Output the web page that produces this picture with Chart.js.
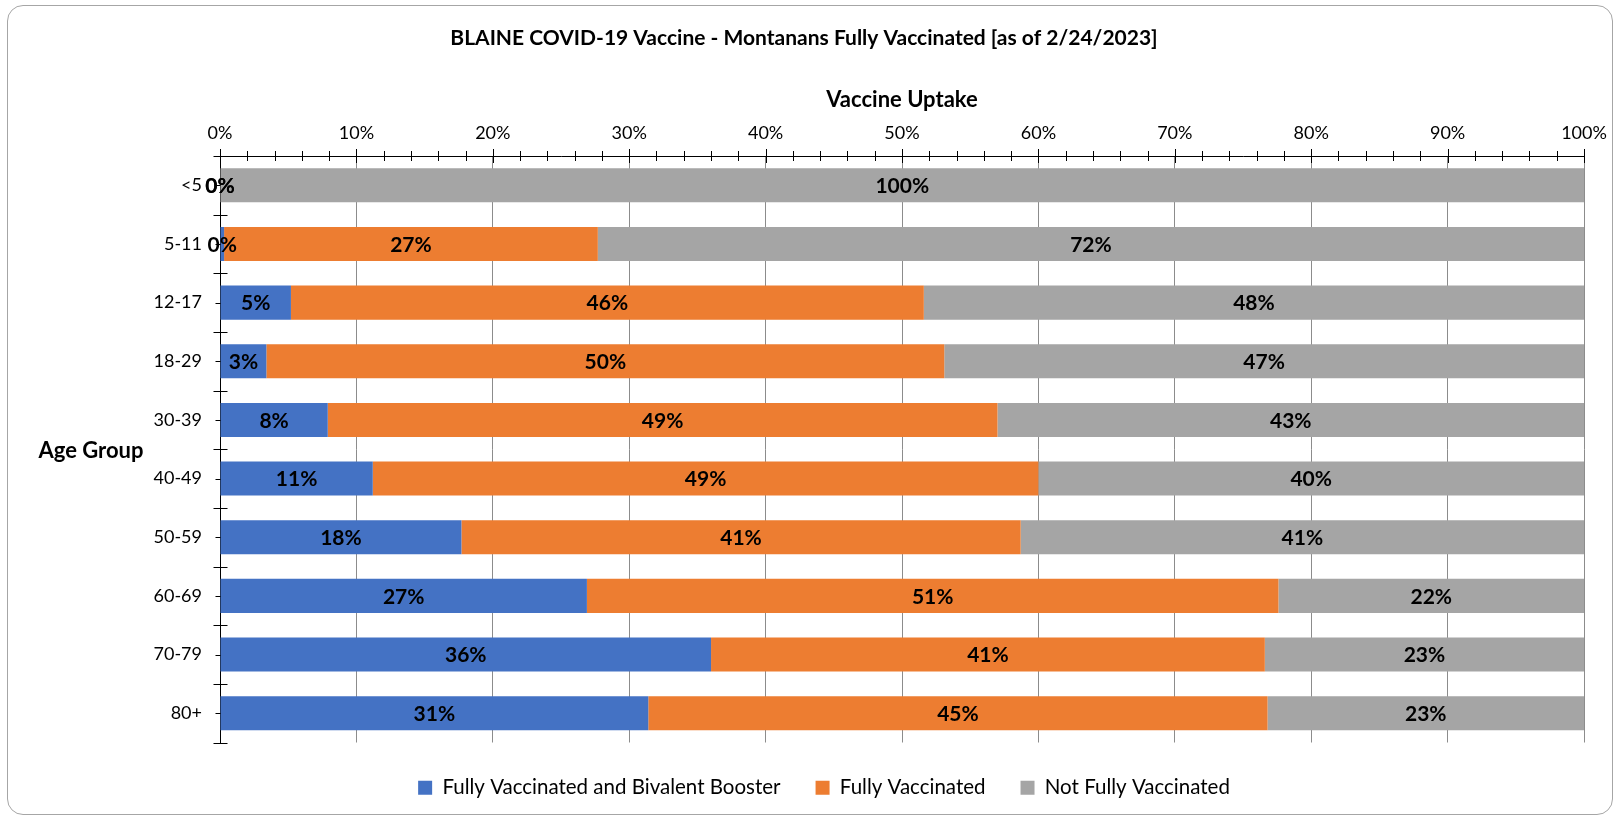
<!DOCTYPE html>
<html><head><meta charset="utf-8">
<script src="https://cdn.jsdelivr.net/npm/chart.js@4.4.0/dist/chart.umd.min.js"></script>
<style>
html,body{margin:0;padding:0;background:#fff;}
#wrap{position:relative;width:1615px;height:817px;overflow:hidden;}
#frame{position:absolute;left:7px;top:5px;width:1606px;height:810px;border:1px solid #a6a6a6;border-radius:16px;box-sizing:border-box;}
canvas{position:absolute;left:0;top:0;}
</style></head><body>
<div id="wrap"><div id="frame"></div><canvas id="c" width="1615" height="817"></canvas></div>
<script>
const categories = ['<5','5-11','12-17','18-29','30-39','40-49','50-59','60-69','70-79','80+'];
const boosterValues  = [0, 0.3, 5.2, 3.4, 7.9, 11.2, 17.7, 26.9, 36.0, 31.4];
const fullyValues    = [0, 27.4, 46.4, 49.7, 49.1, 48.8, 41.0, 50.7, 40.6, 45.4];
const notFullyValues = [100, 72.3, 48.4, 46.9, 43.0, 40.0, 41.3, 22.4, 23.4, 23.2];
const seriesNames = ['Fully Vaccinated and Bivalent Booster', 'Fully Vaccinated', 'Not Fully Vaccinated'];
const seriesColors = ['#4472C4', '#ED7D31', '#A5A5A5'];
const titleText = 'BLAINE COVID-19 Vaccine - Montanans Fully Vaccinated [as of 2/24/2023]';
const xTitle = 'Vaccine Uptake';
const yTitle = 'Age Group';

const FONT = 'Lato, "Open Sans", sans-serif';

const dataLabels = {
  id: 'dataLabels',
  afterDatasetsDraw(chart) {
    const ctx = chart.ctx;
    ctx.save();
    ctx.font = 'bold 21px ' + FONT;
    ctx.fillStyle = '#000';
    ctx.textAlign = 'center';
    ctx.textBaseline = 'middle';
    chart.data.datasets.forEach((ds, di) => {
      const meta = chart.getDatasetMeta(di);
      meta.data.forEach((el, i) => {
        const v = ds.data[i];
        const x = (el.x + el.base) / 2;
        ctx.fillText(Math.round(v) + '%', x, el.y + 1);
      });
    });
    ctx.restore();
  }
};

const legendShift = {
  id: 'legendShift',
  afterLayout(chart) {
    if (chart.legend) { chart.legend.left += 20; chart.legend.right += 20; }
  }
};

const axisDecor = {
  id: 'axisDecor',
  afterDraw(chart) {
    const ctx = chart.ctx;
    const xs = chart.scales.x, ys = chart.scales.y;
    const area = chart.chartArea;
    ctx.save();
    ctx.strokeStyle = '#000';
    ctx.lineWidth = 1;
    ctx.beginPath();
    for (let v = 0; v <= 100; v += 2) {
      const x = Math.round(xs.getPixelForValue(v)) + 0.5;
      const major = v % 10 === 0;
      ctx.moveTo(x, area.top - (major ? 7 : 5));
      ctx.lineTo(x, area.top + (major ? 7 : 5));
    }
    const n = categories.length;
    const step = (area.bottom - area.top) / n;
    const ax = Math.round(area.left) + 0.5;
    for (let i = 0; i <= n; i++) {
      const y = Math.round(area.top + i * step) + 0.5;
      ctx.moveTo(ax - 7, y); ctx.lineTo(ax + 7, y);
    }
    for (let i = 0; i < n; i++) {
      const y = Math.round(ys.getPixelForValue(i)) + 0.5;
      ctx.moveTo(ax - 5, y); ctx.lineTo(ax, y);
    }
    ctx.stroke();
    ctx.font = 'bold 22px ' + FONT;
    ctx.fillStyle = '#000';
    ctx.textAlign = 'center';
    ctx.textBaseline = 'middle';
    ctx.fillText(yTitle, 91, 451);
    ctx.restore();
  }
};

new Chart(document.getElementById('c'), {
  type: 'bar',
  data: {
    labels: categories,
    datasets: [
      { label: seriesNames[0], data: boosterValues, backgroundColor: seriesColors[0] },
      { label: seriesNames[1], data: fullyValues, backgroundColor: seriesColors[1] },
      { label: seriesNames[2], data: notFullyValues, backgroundColor: seriesColors[2] }
    ]
  },
  options: {
    indexAxis: 'y',
    responsive: false,
    animation: false,
    devicePixelRatio: 1,
    categoryPercentage: 1,
    barPercentage: 0.58,
    layout: { padding: { top: 0, right: 31, bottom: 9, left: 24 } },
    scales: {
      x: {
        position: 'top', stacked: true, min: 0, max: 100,
        afterFit(s) { s.height = 104.8; },
        ticks: {
          stepSize: 2, autoSkip: false, maxRotation: 0, padding: 6,
          color: '#000', font: { family: FONT, size: 18 },
          callback: (v) => (v % 10 === 0 ? v + '%' : '')
        },
        grid: {
          color: (c) => (c.tick && c.tick.value % 10 === 0 ? '#8c8c8c' : 'rgba(0,0,0,0)'),
          tickColor: 'rgba(0,0,0,0)', tickLength: 6, lineWidth: 1
        },
        border: { display: true, color: '#000', width: 1 },
        title: { display: true, text: xTitle, color: '#000', font: { family: FONT, size: 22, weight: 'bold' }, padding: { top: 35.6, bottom: 0 } }
      },
      y: {
        stacked: true, offset: true,
        afterFit(s) { s.width = 196; },
        ticks: { color: '#000', font: { family: FONT, size: 18 }, padding: 12 },
        grid: { offset: true, drawOnChartArea: false, tickColor: 'rgba(0,0,0,0)', tickLength: 6 },
        border: { display: true, color: '#000', width: 1 }
      }
    },
    plugins: {
      title: { display: true, text: titleText, color: '#000', font: { family: FONT, size: 21, weight: 'bold' }, padding: { top: 26, bottom: 0 } },
      legend: {
        position: 'bottom',
        labels: { boxWidth: 14, boxHeight: 14, padding: 35, color: '#000', font: { family: FONT, size: 20.5 } }
      },
      tooltip: { enabled: false }
    }
  },
  plugins: [dataLabels, axisDecor, legendShift]
});
</script>
</body></html>
